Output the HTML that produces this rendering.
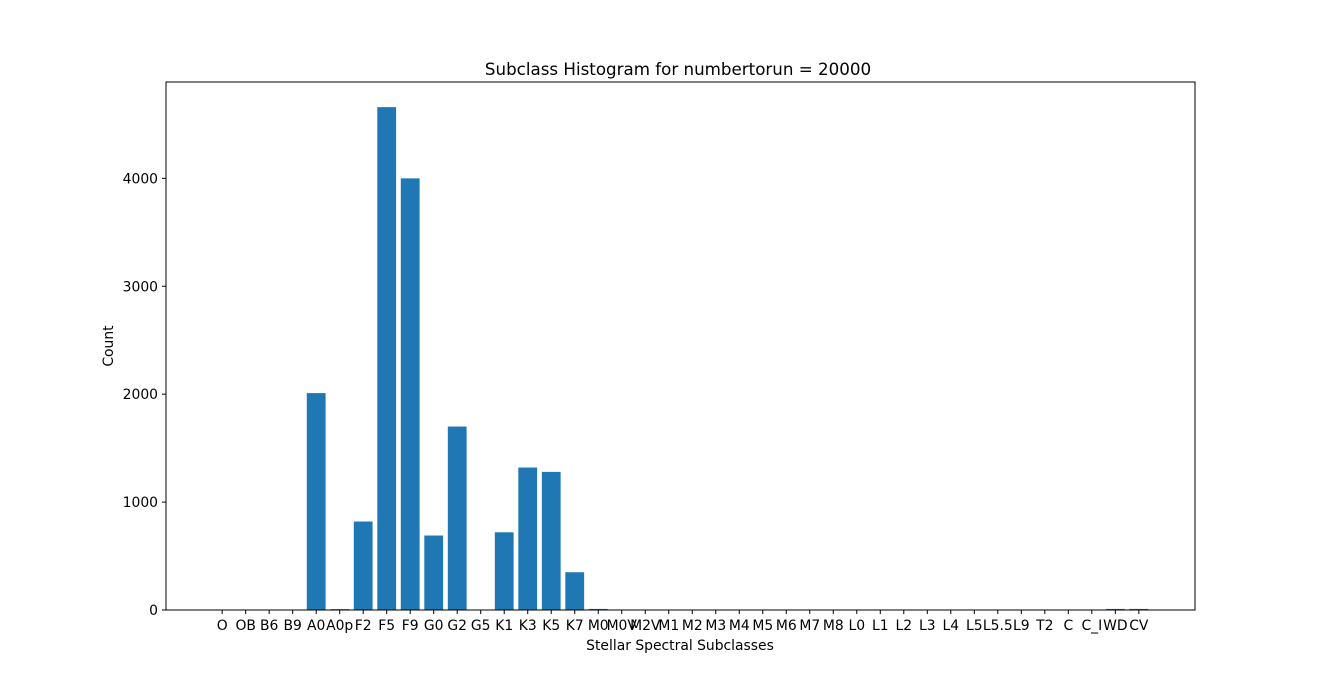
<!DOCTYPE html>
<html><head><meta charset="utf-8"><style>
html,body{margin:0;padding:0;background:#fff;}
svg{display:block;font-family:"DejaVu Sans","Liberation Sans",sans-serif;}
</style></head><body>
<svg id="chart" width="1328" height="685" viewBox="0 0 1328 685">
<rect width="1328" height="685" fill="#fff"/>
<text x="678" y="75" text-anchor="middle" font-size="16.7">Subclass Histogram for numbertorun = 20000</text>
<g id="bars"></g>
<g id="xticks"></g>
<g id="yticks"></g>
<rect x="166" y="82" width="1029" height="528" fill="none" stroke="#000" stroke-width="1"/>
<text x="680" y="650" text-anchor="middle" font-size="13.9">Stellar Spectral Subclasses</text>
<text x="113" y="346" text-anchor="middle" font-size="13.9" transform="rotate(-90 113 346)">Count</text>
</svg>
<script>
const categories=["O","OB","B6","B9","A0","A0p","F2","F5","F9","G0","G2","G5","K1","K3","K5","K7","M0","M0V","M2V","M1","M2","M3","M4","M5","M6","M7","M8","L0","L1","L2","L3","L4","L5","L5.5","L9","T2","C","C_I","WD","CV"];
const counts=[0,0,0,0,2010,8,820,4660,4000,690,1700,0,720,1320,1280,350,10,0,0,0,0,0,0,0,0,0,0,0,0,0,0,0,0,0,0,0,0,0,10,10];
const yTicks=[0,1000,2000,3000,4000];
const NS="http://www.w3.org/2000/svg";
const L=166,R=1195,T=82,B=610;
const n=categories.length;
const xmin=-0.4-0.05*(n-0.2),xmax=n-1+0.4+0.05*(n-0.2);
const x=v=>L+(v-xmin)/(xmax-xmin)*(R-L);
const ymax=4660*1.05;
const y=v=>B-v/ymax*(B-T);
const bars=document.getElementById('bars'),xt=document.getElementById('xticks'),yt=document.getElementById('yticks');
categories.forEach((c,i)=>{
  const r=document.createElementNS(NS,'rect');
  r.setAttribute('x',x(i-0.4));r.setAttribute('width',x(i+0.4)-x(i-0.4));
  r.setAttribute('y',y(counts[i]));r.setAttribute('height',Math.max(0,B-y(counts[i])));
  r.setAttribute('fill','#1f77b4');
  
  
  bars.appendChild(r);
  const tk=document.createElementNS(NS,'line');
  tk.setAttribute('x1',x(i));tk.setAttribute('x2',x(i));tk.setAttribute('y1',B);tk.setAttribute('y2',B+4);tk.setAttribute('stroke','#000');
  
  
  xt.appendChild(tk);
  const t=document.createElementNS(NS,'text');
  t.setAttribute('x',x(i));t.setAttribute('y',B+20);t.setAttribute('text-anchor','middle');t.setAttribute('font-size','13.9');
  t.textContent=c;
  
  
  xt.appendChild(t);
});
yTicks.forEach(v=>{
  const tk=document.createElementNS(NS,'line');
  tk.setAttribute('x1',L-4);tk.setAttribute('x2',L);tk.setAttribute('y1',y(v));tk.setAttribute('y2',y(v));tk.setAttribute('stroke','#000');
  
  
  yt.appendChild(tk);
  const t=document.createElementNS(NS,'text');
  t.setAttribute('x',L-8);t.setAttribute('y',y(v)+5);t.setAttribute('text-anchor','end');t.setAttribute('font-size','13.9');
  t.textContent=v;
  
  
  yt.appendChild(t);
});
</script>
</body></html>
